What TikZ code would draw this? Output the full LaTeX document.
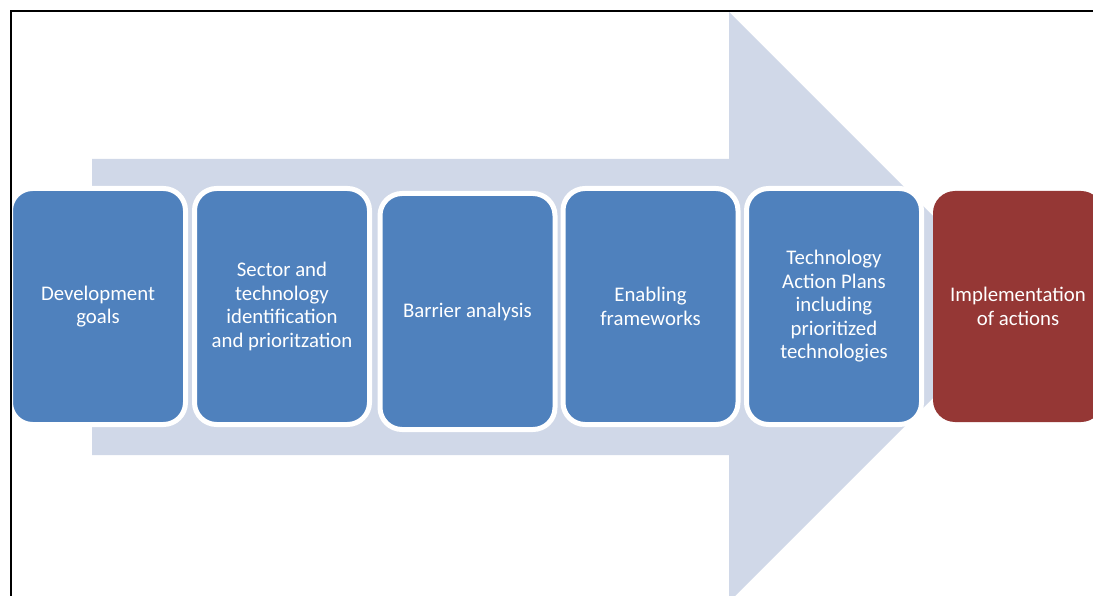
\documentclass[tikz,border=0pt]{standalone}
\usepackage{fontspec}
\setmainfont{Carlito}
\definecolor{boxblue}{HTML}{4F81BD}
\definecolor{arrowblue}{HTML}{D0D8E8}
\definecolor{boxred}{HTML}{953735}
\begin{document}
\begin{tikzpicture}[x=1pt,y=-1pt,
  stage/.style={rounded corners=22pt, fill=boxblue, draw=white, line width=5pt,
    minimum width=175pt, minimum height=236pt, text=white, align=center,
    font=\fontsize{20.8}{23.5}\selectfont, inner sep=0pt},
  redstage/.style={stage, fill=boxred, draw=none, minimum width=170pt, minimum height=231pt},
  frameline/.style={black, line width=2pt}]
\useasboundingbox (0,0) rectangle (1093,596);
\begin{scope}
\clip (0,0) rectangle (1093,596);
\fill[white] (0,0) rectangle (1093,596);
% big arrow
\fill[arrowblue] (92,159) -- (729,159) -- (729,12) -- (1024,307) -- (729,602)
  -- (729,455) -- (92,455) -- cycle;
% stages
\node[stage] (s1) at (98,306.5) {Development\\goals};
\node[stage] (s2) at (282,306.5) {Sector and\\technology\\identification\\and prioritzation};
\node[stage] (s3) at (467.5,311.5) {Barrier analysis};
\node[stage] (s4) at (650.5,306.5) {Enabling\\frameworks};
\node[stage] (s5) at (834,306.5) {Technology\\Action Plans\\including\\prioritized\\technologies};
\node[redstage] (s6) at (1018,306.5) {Implementation\\of actions};
% frame
\draw[frameline] (10.5,1000) -- (10.5,11.5) -- (1100,11.5);
\end{scope}
\end{tikzpicture}
\end{document}
